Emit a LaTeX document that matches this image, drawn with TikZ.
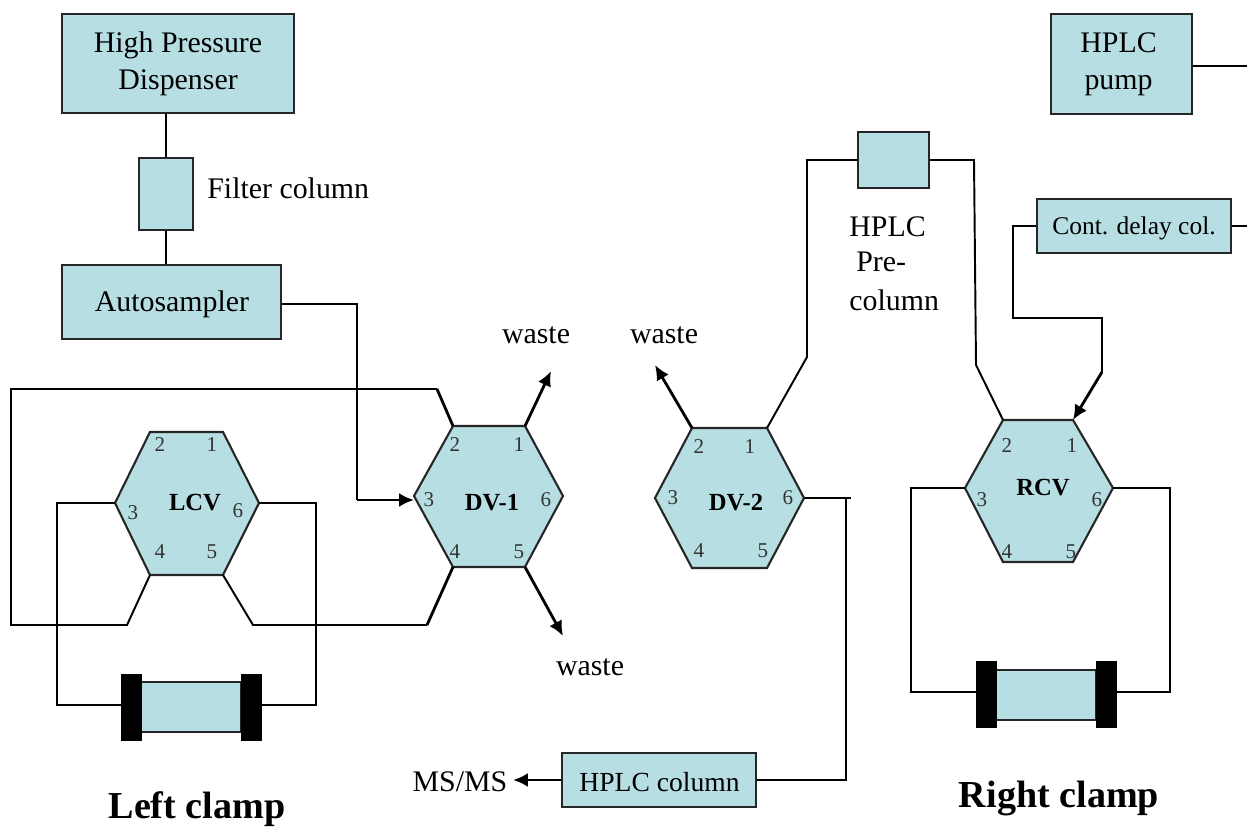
\documentclass[tikz,border=0pt]{standalone}
\usepackage{fontspec}
\setmainfont{Liberation Serif}
\usetikzlibrary{arrows,arrows.meta}
\definecolor{tubo}{HTML}{B7DFE3}
\tikzset{
  caja/.style={draw=black!85,fill=tubo,line width=1.2pt,align=center,inner sep=0pt,font=\fontsize{17}{21}\selectfont},
  tapa/.style={fill=black,draw=black,inner sep=0pt,minimum width=20*0.02cm,minimum height=66*0.02cm},
  linea/.style={line width=1.1pt},
  gruesa/.style={line width=1.6pt},
  flecha/.style={line width=1.6pt,-{Latex[length=8.5pt,width=8pt]}},
  texto/.style={inner sep=0pt,align=left,font=\fontsize{17}{21}\selectfont},
  numero/.style={inner sep=0pt,text=black!80,font=\fontsize{12}{14}\selectfont},
  titulo/.style={inner sep=0pt,font=\fontsize{14}{17}\selectfont\bfseries},
  pinza/.style={inner sep=0pt,font=\fontsize{21.7}{26}\selectfont\bfseries}
}
% hexagono: nombre, izq, der, arr, abj, esquina izq, esquina der
\newcommand{\valvula}[8]{
  \coordinate (#1-1) at (#7,#4);
  \coordinate (#1-2) at (#6,#4);
  \coordinate (#1-3) at (#2,#8);
  \coordinate (#1-4) at (#6,#5);
  \coordinate (#1-5) at (#7,#5);
  \coordinate (#1-6) at (#3,#8);
  \draw[caja] (#1-1) -- (#1-2) -- (#1-3) -- (#1-4) -- (#1-5) -- (#1-6) -- cycle;
}
\begin{document}
\begin{tikzpicture}[x=0.02cm,y=-0.02cm]
  \useasboundingbox (0,0) rectangle (1247,828);

  % Cajas de arriba
  \node[caja,minimum width=232*0.02cm,minimum height=99*0.02cm] (dispenser) at (178,63.5) {High Pressure\\Dispenser};
  \node[caja,minimum width=54*0.02cm,minimum height=72*0.02cm] (filtro) at (166,194) {};
  \node[caja,minimum width=219*0.02cm,minimum height=74*0.02cm] (auto) at (171.5,302) {};
  \node[texto] (autotxt) at (172,304.5) {Autosampler};
  \node[caja,minimum width=141*0.02cm,minimum height=100*0.02cm] (bomba) at (1121.5,64) {\hspace*{-3.4pt}HPLC\\\hspace*{-3.4pt}pump};
  \node[caja,minimum width=71*0.02cm,minimum height=56*0.02cm] (precol) at (893.5,160) {};
  \node[caja,minimum width=194*0.02cm,minimum height=54*0.02cm] (delay) at (1134,226) {};
  \node[texto,font=\fontsize{14.5}{18}\selectfont] (delaytxt) at (1134,228) {Cont. delay col.};
  \node[caja,minimum width=194*0.02cm,minimum height=54*0.02cm] (columna) at (659,780) {};
  \node[texto,font=\fontsize{15.7}{18}\selectfont] (columnatxt) at (659.5,782) {HPLC column};

  % Valvulas
  \valvula{LCV}{115}{259}{432}{575}{150}{223}{503}
  \valvula{DVa}{414}{563}{426}{567}{453}{525}{496}
  \valvula{DVb}{655}{804}{428}{568}{692}{767}{498}
  \valvula{RCV}{965}{1113}{420}{562}{1003}{1073}{488}

  \node[titulo] (lcv) at (195,503) {LCV};
  \node[titulo] (dva) at (492,503) {DV-1};
  \node[titulo] (dvb) at (736,503) {DV-2};
  \node[titulo] (rcv) at (1043,488) {RCV};

  % Numeros de los puertos
  \foreach \n/\x/\y in {1/212/445,2/160/445,3/133/513,4/160/552,5/212/552,6/238/511}
    \node[numero] (lcv\n) at (\x,\y) {\n};
  \foreach \n/\x/\y in {1/519/445,2/455/445,3/429/500,4/455/552,5/519/552,6/546/500}
    \node[numero] (dva\n) at (\x,\y) {\n};
  \foreach \n/\x/\y in {1/750/447,2/699/447,3/673/498,4/699/551,5/763/551,6/788/498}
    \node[numero] (dvb\n) at (\x,\y) {\n};
  \foreach \n/\x/\y in {1/1072/446,2/1007/446,3/982/500,4/1007/552,5/1071/552,6/1097/500}
    \node[numero] (rcv\n) at (\x,\y) {\n};

  % Columna izquierda
  \node[caja,minimum width=100*0.02cm,minimum height=50*0.02cm] (colizq) at (191,707) {};
  \node[tapa] (tapaa) at (131,707) {};
  \node[tapa] (tapab) at (251,707) {};

  % Columna derecha
  \node[caja,minimum width=100*0.02cm,minimum height=50*0.02cm] (colder) at (1046,695) {};
  \node[tapa] (tapac) at (986,694) {};
  \node[tapa] (tapad) at (1106,694) {};

  % Lineas de la parte izquierda
  \draw[linea] (dispenser.south -| filtro) -- (filtro);
  \draw[linea] (filtro) -- (auto.north -| filtro);
  \coordinate (pasoa) at (437,389);
  \coordinate (pasob) at (427,625);
  \draw[linea] (pasoa) -- (11,389) -- (11,625) -- (127,625) -- (LCV-4);
  \draw[gruesa] (DVa-2) -- (pasoa);
  \draw[linea] (LCV-5) -- (253,625) -- (pasob);
  \draw[gruesa] (pasob) -- (DVa-4);
  \draw[linea] (LCV-3) -- (57,503) -- (57,705) -- (tapaa.west |- 0,705);
  \draw[linea] (LCV-6) -- (316,503) -- (316,705) -- (tapab.east |- 0,705);
  \coordinate (entrada) at (414,500);
  \draw[linea] (auto.east |- 0,304) -- (357,304) -- (357,500);
  \draw[flecha] (357,500) -- (entrada);

  % Salidas a waste
  \node[texto] (wastea) at (536,335) {waste};
  \node[texto] (wasteb) at (664,335) {waste};
  \node[texto] (wastec) at (590,667) {waste};
  \coordinate (salidaa) at (551,371);
  \coordinate (salidab) at (655,365);
  \coordinate (salidac) at (563,636);
  \draw[flecha] (DVa-1) -- (salidaa);
  \draw[flecha] (DVa-5) -- (salidac);
  \draw[flecha] (DVb-2) -- (salidab);

  % Lineas de la parte derecha
  \draw[linea] (precol.west) -- (807,160) -- (807,357) -- (DVb-1);
  \draw[linea] (precol.east) -- (974,160) -- (976,365) -- (RCV-2);
  \draw[linea] (DVb-6) -- (851,498);
  \draw[linea] (846,498) -- (846,780) -- (columna.east);
  \draw[linea] (RCV-3) -- (911,488) -- (911,692) -- (tapac.west |- 0,692);
  \draw[linea] (RCV-6) -- (1170,488) -- (1170,692) -- (tapad.east |- 0,692);
  \coordinate (codo) at (1102,372);
  \draw[linea] (delay.west) -- (1013,226) -- (1013,318) -- (1102,318) -- (codo);
  \draw[flecha] (codo) -- (RCV-1);
  \coordinate (bordea) at (1247,66);
  \coordinate (bordeb) at (1247,226);
  \draw[linea] (bomba.east |- bordea) -- (bordea);
  \draw[linea] (delay.east) -- (bordeb);

  % Salida al MS/MS
  \node[texto] (msms) at (460,782) {MS/MS};
  \coordinate (salidad) at (513,780);
  \draw[flecha] (columna.west) -- (salidad);

  % Textos sueltos
  \node[texto,anchor=west] (filtrotxt) at (207,188) {Filter column};
  \node[texto,anchor=west] (hplctxt) at (849,227) {HPLC};
  \node[texto,anchor=west] (pretxt) at (856,262) {Pre-};
  \node[texto,anchor=west] (coltxt) at (849,300) {column};
  \node[pinza] (izq) at (197,809) {Left clamp};
  \node[pinza] (der) at (1059,798) {Right clamp};
\end{tikzpicture}
\end{document}
